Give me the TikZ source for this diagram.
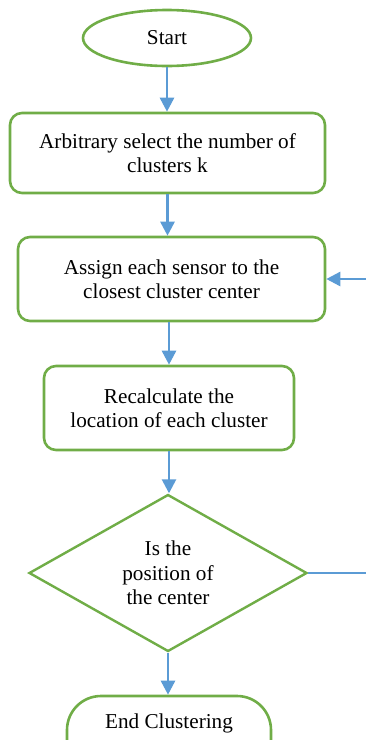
\documentclass[tikz,border=0pt]{standalone}
\usepackage{fontspec}
\setmainfont{Liberation Serif}
\usepackage{xcolor}
\usepackage{tikz}
\usetikzlibrary{positioning,arrows.meta}
\usetikzlibrary{shapes.geometric,shapes.misc}
\definecolor{boxgreen}{HTML}{70AD47}
\definecolor{flowblue}{HTML}{5B9BD5}
\tikzset{
every node/.style={font=\fontsize{21.2}{24.5}\selectfont, align=center},
block/.style={draw=boxgreen, line width=2.6pt, rounded corners=12pt, inner sep=0pt},
terminal/.style={draw=boxgreen, line width=2.6pt, ellipse, inner sep=0pt},
decision/.style={draw=boxgreen, line width=2.4pt, diamond, aspect=1.77, inner sep=0pt},
flow/.style={draw=flowblue, line width=2.6pt, -{Triangle[width=14pt,length=14pt]}},
flow line/.style={draw=flowblue, line width=2.6pt}
}

\begin{document}
\begin{tikzpicture}[x=1pt, y=-1pt]
  \useasboundingbox (0,0) rectangle (366,740);
  \clip (0,0) rectangle (366,740);
  \node[terminal, minimum width=168pt, minimum height=56pt] (start) at (167,38) {Start};
  \node[block, minimum width=315pt, minimum height=80pt] (select) at (167.5,153) {Arbitrary select the number of\\clusters k};
  \node[block, minimum width=307pt, minimum height=84pt] (assign) at (171.5,279) {Assign each sensor to the\\closest cluster center};
  \node[block, minimum width=250pt, minimum height=84pt] (recalc) at (169,408) {Recalculate the\\location of each cluster};
  \node[decision, minimum width=278pt, minimum height=157pt] (test) at (168,573) {Is the\\position of\\the center};
  \node[block, rounded corners=34pt, minimum width=204pt, minimum height=80pt,
        text height=14pt, text depth=30pt] (stop) at (169,736) {End Clustering};
  \coordinate (loopout) at (366,573);
  \coordinate (loopin) at (366,279);
  % straight down from each shape to the next one
  \foreach \a/\b in {start/select, select/assign, recalc/test, test/stop}
    \draw[flow] (\a.south) -- (\a.south |- \b.north);
  \draw[flow] (recalc.north |- assign.south) -- (recalc.north);
  \draw[flow line] (test.east) -- (loopout);
  \draw[flow] (loopin) -- (assign.east);
\end{tikzpicture}
\end{document}
